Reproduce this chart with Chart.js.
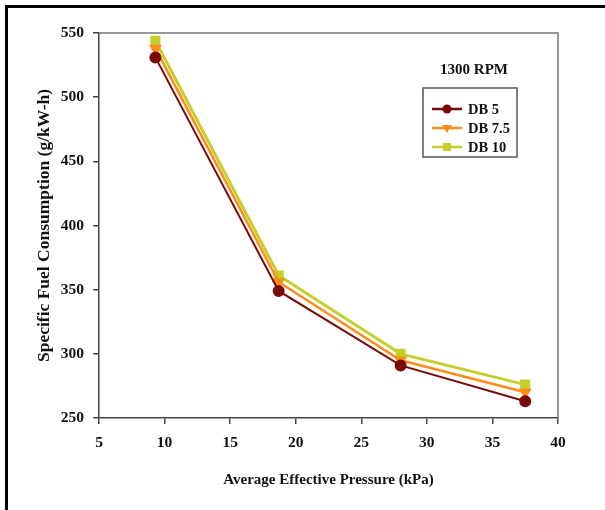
<!DOCTYPE html>
<html>
<head>
<meta charset="utf-8">
<script src="https://cdn.jsdelivr.net/npm/chart.js@4"></script>
<style>
  body { margin: 0; background: #fff; }
  #wrap { width: 605px; height: 510px; position: relative; }
</style>
</head>
<body>
<div id="wrap"><canvas id="c" width="605" height="510"></canvas></div>
<script>
// Average effective pressure (kPa)
const pressure = [9.3, 18.7, 28.0, 37.5];
// Specific fuel consumption (g/kW-h)
const db5  = [531, 349, 291, 263];
const db75 = [538, 356, 295, 270];
const db10 = [544, 361, 300, 276];

const seriesNames = ["DB 5", "DB 7.5", "DB 10"];
const xTicks = [5, 10, 15, 20, 25, 30, 35, 40];
const yTicks = [250, 300, 350, 400, 450, 500, 550];

const serif = "'Liberation Serif', 'Times New Roman', serif";

function pts(ys) {
    return pressure.map((x, i) => ({ x: x, y: ys[i] }));
}

// frame, plot border and the boxed legend
const decor = {
    id: "decor",
    beforeDraw(chart) {
        const ctx = chart.ctx;
        ctx.save();
        ctx.fillStyle = "#fff";
        ctx.fillRect(0, 0, chart.width, chart.height);
        ctx.fillStyle = "#000";
        ctx.fillRect(5, 5, chart.width - 5, 3);
        ctx.fillRect(5, 5, 3, chart.height - 5);
        ctx.restore();
    },
    afterDraw(chart) {
        const ctx = chart.ctx;
        const a = chart.chartArea;
        ctx.save();
        ctx.strokeStyle = "#777";
        ctx.lineWidth = 1.5;
        ctx.beginPath();
        ctx.moveTo(a.left, a.top);
        ctx.lineTo(a.right, a.top);
        ctx.lineTo(a.right, a.bottom);
        ctx.stroke();

        ctx.fillStyle = "#111";
        ctx.font = "bold 15px " + serif;
        ctx.textAlign = "center";
        ctx.textBaseline = "middle";
        ctx.fillText("1300 RPM", 474, 70);

        ctx.strokeStyle = "#555";
        ctx.lineWidth = 1.5;
        ctx.strokeRect(423, 88, 94, 69);

        const rows = [109, 128, 147];
        chart.data.datasets.forEach((ds, i) => {
            const y = rows[i];
            ctx.strokeStyle = ds.borderColor;
            ctx.lineWidth = 2.5;
            ctx.beginPath();
            ctx.moveTo(432, y);
            ctx.lineTo(462, y);
            ctx.stroke();
            ctx.fillStyle = ds.borderColor;
            ctx.beginPath();
            if (ds.pointStyle === "circle") {
                ctx.arc(447, y, 4.5, 0, Math.PI * 2);
            } else if (ds.pointStyle === "rect") {
                ctx.rect(443, y - 4, 8, 8);
            } else {
                ctx.moveTo(442, y - 3);
                ctx.lineTo(452, y - 3);
                ctx.lineTo(447, y + 5);
                ctx.closePath();
            }
            ctx.fill();
            ctx.fillStyle = "#111";
            ctx.textAlign = "left";
            ctx.font = "bold 14.5px " + serif;
            ctx.fillText(ds.label, 468, y + 1);
        });
        ctx.restore();
    }
};

new Chart(document.getElementById("c"), {
    type: "scatter",
    data: {
        datasets: [
            {
                label: seriesNames[0],
                data: pts(db5),
                showLine: true,
                borderColor: "#7a0a0a",
                backgroundColor: "#7a0a0a",
                borderWidth: 2,
                pointStyle: "circle",
                pointRadius: 5,
                order: 1
            },
            {
                label: seriesNames[1],
                data: pts(db75),
                showLine: true,
                borderColor: "#ff8c1a",
                backgroundColor: "#ff8c1a",
                borderWidth: 2.5,
                pointStyle: "triangle",
                rotation: 180,
                pointRadius: 5,
                order: 2
            },
            {
                label: seriesNames[2],
                data: pts(db10),
                showLine: true,
                borderColor: "#c5cf2c",
                backgroundColor: "#c5cf2c",
                borderWidth: 3,
                pointStyle: "rect",
                pointRadius: 5,
                order: 3
            }
        ]
    },
    options: {
        responsive: false,
        animation: false,
        layout: { padding: { left: 0, right: 47, top: 33, bottom: 0 } },
        plugins: {
            legend: { display: false },
            tooltip: { enabled: false }
        },
        scales: {
            x: {
                type: "linear",
                min: 5,
                max: 40,
                afterFit: s => { s.height = 92; },
                afterBuildTicks: s => { s.ticks = xTicks.map(v => ({ value: v })); },
                border: { color: "#444", width: 1.5 },
                grid: { drawOnChartArea: false, drawTicks: true, tickLength: 6, color: "#444", lineWidth: 1.5 },
                ticks: { color: "#111", padding: 10, maxRotation: 0, font: { family: serif, size: 15.5, weight: "bold" } },
                title: {
                    display: true,
                    text: "Average Effective Pressure (kPa)",
                    color: "#111",
                    padding: { top: 0, bottom: 21 },
                    font: { family: serif, size: 15, weight: "bold" }
                }
            },
            y: {
                type: "linear",
                min: 250,
                max: 550,
                afterFit: s => { s.width = 99; },
                afterBuildTicks: s => { s.ticks = yTicks.map(v => ({ value: v })); },
                border: { color: "#444", width: 1.5 },
                grid: { drawOnChartArea: false, drawTicks: true, tickLength: 6, color: "#444", lineWidth: 1.5 },
                ticks: { color: "#111", padding: 9, font: { family: serif, size: 15.5, weight: "bold" } },
                title: {
                    display: true,
                    text: "Specific Fuel Consumption (g/kW-h)",
                    color: "#111",
                    padding: { top: 34, bottom: 0 },
                    font: { family: serif, size: 17.5, weight: "bold" }
                }
            }
        }
    },
    plugins: [decor]
});
</script>
</body>
</html>
